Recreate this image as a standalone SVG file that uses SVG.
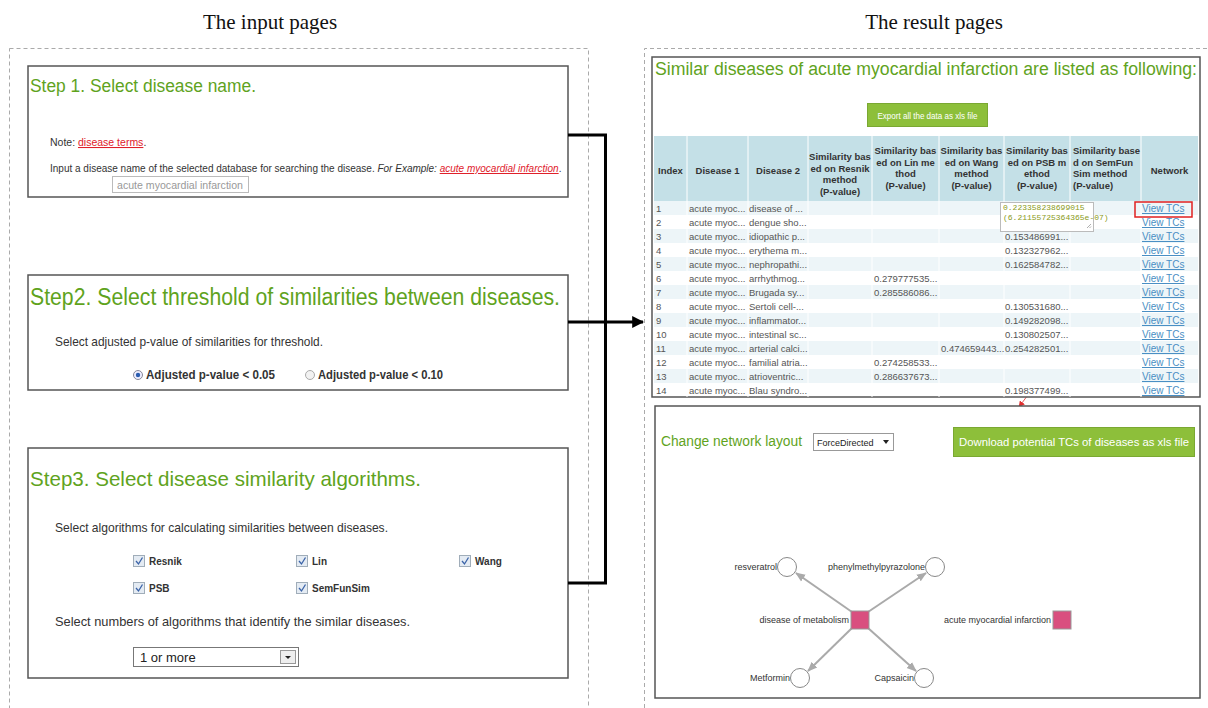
<svg xmlns="http://www.w3.org/2000/svg" width="1208" height="708" viewBox="0 0 1208 708">
<defs>
<style>
text{font-family:"Liberation Sans",Arial,sans-serif}
.cap{font-family:"Liberation Serif","Times New Roman",serif;font-size:21px;fill:#111}
.dash{fill:none;stroke:#aaa;stroke-width:1;stroke-dasharray:4 3}
.box{fill:#fff;stroke:#555;stroke-width:1.5}
.green{fill:#5fa31d}
.body{font-size:10.5px;fill:#333}
.body10{font-size:10px;fill:#333}
.body13{font-size:13px;fill:#333}
.link{fill:#e0202a;text-decoration:underline}
.blbl{font-size:12px;font-weight:bold;fill:#333}
.cbl{font-size:10px;font-weight:bold;fill:#333}
.hdr{font-size:9.5px;font-weight:bold;fill:#333;text-anchor:middle}
.hdrl{font-size:9.5px;font-weight:bold;fill:#333}
.cell{font-size:9.5px;fill:#555}
.view{font-size:10px;fill:#4a8fc4;text-decoration:underline}
.mono{font-family:"Liberation Mono","Courier New",monospace;font-size:8px;fill:#8a9a20}
.btn{fill:#8dbf3a;stroke:#7aa832;stroke-width:1}
.btxt{fill:#fff;text-anchor:middle}
.conn{fill:none;stroke:#000;stroke-width:3}
.edge{stroke:#aaa;stroke-width:2;fill:none}
.tc{fill:#fff;stroke:#888;stroke-width:1}
.dis{fill:#d94f7f;stroke:#999;stroke-width:1}
.nlbl{font-size:9px;fill:#333}
.cb{fill:#e4ebf3;stroke:#a0adb9;stroke-width:1}
.ck{fill:none;stroke:#3b63a8;stroke-width:1.3}
</style>
<marker id="blk" viewBox="0 0 10 10" refX="9" refY="5" markerWidth="4" markerHeight="4" orient="auto" markerUnits="strokeWidth"><path d="M0,0 L10,5 L0,10 z" fill="#000"/></marker>
<marker id="gry" viewBox="0 0 10 10" refX="9" refY="5" markerWidth="5" markerHeight="5" orient="auto" markerUnits="strokeWidth"><path d="M0,1 L10,5 L0,9 z" fill="#aaa"/></marker>
<marker id="red" viewBox="0 0 10 10" refX="9" refY="5" markerWidth="7" markerHeight="7" orient="auto" markerUnits="strokeWidth"><path d="M0,0 L10,5 L0,10 z" fill="#e03030"/></marker>
</defs>
<rect width="1208" height="708" fill="#fff"/>

<g id="captions">
<text class="cap" x="270" y="29" text-anchor="middle">The input pages</text>
<text class="cap" x="934" y="29" text-anchor="middle">The result pages</text>
</g>
<g id="containers">
<rect class="dash" x="9.5" y="48.5" width="579" height="700"/>
<path class="dash" d="M644.5,708 V48.5 H1210"/>
</g>

<g id="step1">
<rect class="box" x="28" y="66" width="540" height="131"/>
<text class="green" x="30" y="92" font-size="17.5" textLength="226" lengthAdjust="spacingAndGlyphs">Step 1. Select disease name.</text>
<text class="body" x="50" y="146">Note: <tspan class="link">disease terms</tspan>.</text>
<text class="body10" x="50" y="172">Input a disease name of the selected database for searching the disease. <tspan font-style="italic">For Example: </tspan><tspan class="link" font-style="italic">acute myocardial infarction</tspan>.</text>
<rect x="112.5" y="176.5" width="136" height="16" fill="#fff" stroke="#bbb"/>
<text x="117" y="188.5" font-size="11" fill="#999" textLength="126" lengthAdjust="spacingAndGlyphs">acute myocardial infarction</text>
</g>

<g id="step2">
<rect class="box" x="28" y="275" width="540" height="115"/>
<text class="green" x="30" y="305" font-size="23" textLength="530" lengthAdjust="spacingAndGlyphs">Step2. Select threshold of similarities between diseases.</text>
<text class="body13" x="55" y="346" textLength="268" lengthAdjust="spacingAndGlyphs">Select adjusted p-value of similarities for threshold.</text>
<circle cx="138" cy="375" r="4.5" fill="#eef" stroke="#889"/>
<circle cx="138" cy="375" r="2.2" fill="#2a5db0"/>
<text class="blbl" x="146" y="379" textLength="129" lengthAdjust="spacingAndGlyphs">Adjusted p-value &lt; 0.05</text>
<circle cx="310" cy="375" r="4.5" fill="#f2f2f2" stroke="#aaa"/>
<text class="blbl" x="318" y="379" textLength="125" lengthAdjust="spacingAndGlyphs">Adjusted p-value &lt; 0.10</text>
</g>

<g id="step3">
<rect class="box" x="28" y="448" width="540" height="230"/>
<text class="green" x="30" y="486" font-size="21" textLength="391" lengthAdjust="spacingAndGlyphs">Step3. Select disease similarity algorithms.</text>
<text class="body13" x="55" y="532" textLength="333" lengthAdjust="spacingAndGlyphs">Select algorithms for calculating similarities between diseases.</text>
<rect class="cb" x="133.5" y="555.5" width="11" height="11"/><path class="ck" d="M136,561 L138.5,564 L142.5,557.5"/>
<text class="cbl" x="149" y="565">Resnik</text>
<rect class="cb" x="296.5" y="555.5" width="11" height="11"/><path class="ck" d="M299,561 L301.5,564 L305.5,557.5"/>
<text class="cbl" x="312" y="565">Lin</text>
<rect class="cb" x="459.5" y="555.5" width="11" height="11"/><path class="ck" d="M462,561 L464.5,564 L468.5,557.5"/>
<text class="cbl" x="475" y="565">Wang</text>
<rect class="cb" x="133.5" y="582.5" width="11" height="11"/><path class="ck" d="M136,588 L138.5,591 L142.5,584.5"/>
<text class="cbl" x="149" y="592">PSB</text>
<rect class="cb" x="296.5" y="582.5" width="11" height="11"/><path class="ck" d="M299,588 L301.5,591 L305.5,584.5"/>
<text class="cbl" x="312" y="592">SemFunSim</text>
<text class="body13" x="55" y="626" textLength="355" lengthAdjust="spacingAndGlyphs">Select numbers of algorithms that identify the similar diseases.</text>
<rect x="133.5" y="647.5" width="165" height="19" fill="#fff" stroke="#777"/>
<text x="140" y="662" font-size="13" fill="#222">1 or more</text>
<rect x="280.5" y="650.5" width="15" height="13" fill="#eee" stroke="#999"/>
<path d="M285,656 L291,656 L288,659 z" fill="#222"/>
</g>

<g id="connectors">
<path class="conn" d="M568,135 H605.5 V583 H568"/>
<path class="conn" d="M568,322 H643" marker-end="url(#blk)"/>
<line x1="1161" y1="215" x2="1019" y2="407" stroke="#e04848" stroke-width="0.9" marker-end="url(#red)"/>
</g>

<g id="result-table">
<rect class="box" x="652" y="57" width="548" height="340"/>
<text class="green" x="655" y="75" font-size="18" textLength="542" lengthAdjust="spacingAndGlyphs">Similar diseases of acute myocardial infarction are listed as following:</text>
<rect class="btn" x="867.5" y="103.5" width="120" height="23"/>
<text class="btxt" x="927.5" y="118.5" font-size="9.5" textLength="100" lengthAdjust="spacingAndGlyphs">Export all the data as xls file</text>
<rect x="654" y="136" width="544" height="65" fill="#c4e0e7"/>
<g fill="#edf5f8">
<rect x="654" y="201" width="544" height="14"/><rect x="654" y="229" width="544" height="14"/>
<rect x="654" y="257" width="544" height="14"/><rect x="654" y="285" width="544" height="14"/>
<rect x="654" y="313" width="544" height="14"/><rect x="654" y="341" width="544" height="14"/>
<rect x="654" y="369" width="544" height="14"/>
</g>
<g stroke="#fff" stroke-width="1">
<line x1="687" y1="136" x2="687" y2="397"/><line x1="748" y1="136" x2="748" y2="397"/>
<line x1="808" y1="136" x2="808" y2="397"/><line x1="872" y1="136" x2="872" y2="397"/>
<line x1="939" y1="136" x2="939" y2="397"/><line x1="1004" y1="136" x2="1004" y2="397"/>
<line x1="1070" y1="136" x2="1070" y2="397"/><line x1="1141" y1="136" x2="1141" y2="397"/>
</g>
<text class="hdr" x="670.5" y="174">Index</text>
<text class="hdr" x="717.5" y="174">Disease 1</text>
<text class="hdr" x="778" y="174">Disease 2</text>
<text class="hdr" x="840" y="160">Similarity bas</text><text class="hdr" x="840" y="171.5">ed on Resnik</text><text class="hdr" x="840" y="183">method</text><text class="hdr" x="840" y="194.5">(P-value)</text>
<text class="hdr" x="905.5" y="154">Similarity bas</text><text class="hdr" x="905.5" y="165.5">ed on Lin me</text><text class="hdr" x="905.5" y="177">thod</text><text class="hdr" x="905.5" y="188.5">(P-value)</text>
<text class="hdr" x="971.5" y="154">Similarity bas</text><text class="hdr" x="971.5" y="165.5">ed on Wang</text><text class="hdr" x="971.5" y="177">method</text><text class="hdr" x="971.5" y="188.5">(P-value)</text>
<text class="hdr" x="1037" y="154">Similarity bas</text><text class="hdr" x="1037" y="165.5">ed on PSB m</text><text class="hdr" x="1037" y="177">ethod</text><text class="hdr" x="1037" y="188.5">(P-value)</text>
<text class="hdrl" x="1073" y="154">Similarity base</text><text class="hdrl" x="1073" y="165.5">d on SemFun</text><text class="hdrl" x="1073" y="177">Sim method</text><text class="hdrl" x="1073" y="188.5">(P-value)</text>
<text class="hdr" x="1169.5" y="174">Network</text>
<g>
<text class="cell" x="656" y="211.5">1</text><text class="cell" x="689" y="211.5">acute myoc...</text><text class="cell" x="749" y="211.5">disease of ...</text>
<text class="cell" x="656" y="225.5">2</text><text class="cell" x="689" y="225.5">acute myoc...</text><text class="cell" x="749" y="225.5">dengue sho...</text>
<text class="cell" x="656" y="239.5">3</text><text class="cell" x="689" y="239.5">acute myoc...</text><text class="cell" x="749" y="239.5">idiopathic p...</text><text class="cell" x="1005" y="239.5">0.153486991...</text>
<text class="cell" x="656" y="253.5">4</text><text class="cell" x="689" y="253.5">acute myoc...</text><text class="cell" x="749" y="253.5">erythema m...</text><text class="cell" x="1005" y="253.5">0.132327962...</text>
<text class="cell" x="656" y="267.5">5</text><text class="cell" x="689" y="267.5">acute myoc...</text><text class="cell" x="749" y="267.5">nephropathi...</text><text class="cell" x="1005" y="267.5">0.162584782...</text>
<text class="cell" x="656" y="281.5">6</text><text class="cell" x="689" y="281.5">acute myoc...</text><text class="cell" x="749" y="281.5">arrhythmog...</text><text class="cell" x="874" y="281.5">0.279777535...</text>
<text class="cell" x="656" y="295.5">7</text><text class="cell" x="689" y="295.5">acute myoc...</text><text class="cell" x="749" y="295.5">Brugada sy...</text><text class="cell" x="874" y="295.5">0.285586086...</text>
<text class="cell" x="656" y="309.5">8</text><text class="cell" x="689" y="309.5">acute myoc...</text><text class="cell" x="749" y="309.5">Sertoli cell-...</text><text class="cell" x="1005" y="309.5">0.130531680...</text>
<text class="cell" x="656" y="323.5">9</text><text class="cell" x="689" y="323.5">acute myoc...</text><text class="cell" x="749" y="323.5">inflammator...</text><text class="cell" x="1005" y="323.5">0.149282098...</text>
<text class="cell" x="656" y="337.5">10</text><text class="cell" x="689" y="337.5">acute myoc...</text><text class="cell" x="749" y="337.5">intestinal sc...</text><text class="cell" x="1005" y="337.5">0.130802507...</text>
<text class="cell" x="656" y="351.5">11</text><text class="cell" x="689" y="351.5">acute myoc...</text><text class="cell" x="749" y="351.5">arterial calci...</text><text class="cell" x="941" y="351.5">0.474659443...</text><text class="cell" x="1005" y="351.5">0.254282501...</text>
<text class="cell" x="656" y="365.5">12</text><text class="cell" x="689" y="365.5">acute myoc...</text><text class="cell" x="749" y="365.5">familial atria...</text><text class="cell" x="874" y="365.5">0.274258533...</text>
<text class="cell" x="656" y="379.5">13</text><text class="cell" x="689" y="379.5">acute myoc...</text><text class="cell" x="749" y="379.5">atrioventric...</text><text class="cell" x="874" y="379.5">0.286637673...</text>
<text class="cell" x="656" y="393.5">14</text><text class="cell" x="689" y="393.5">acute myoc...</text><text class="cell" x="749" y="393.5">Blau syndro...</text><text class="cell" x="1005" y="393.5">0.198377499...</text>
</g>
<g>
<text class="view" x="1142" y="212">View TCs</text><text class="view" x="1142" y="226">View TCs</text>
<text class="view" x="1142" y="240">View TCs</text><text class="view" x="1142" y="254">View TCs</text>
<text class="view" x="1142" y="268">View TCs</text><text class="view" x="1142" y="282">View TCs</text>
<text class="view" x="1142" y="296">View TCs</text><text class="view" x="1142" y="310">View TCs</text>
<text class="view" x="1142" y="324">View TCs</text><text class="view" x="1142" y="338">View TCs</text>
<text class="view" x="1142" y="352">View TCs</text><text class="view" x="1142" y="366">View TCs</text>
<text class="view" x="1142" y="380">View TCs</text><text class="view" x="1142" y="394">View TCs</text>
</g>
<rect x="1000.5" y="202.5" width="93" height="29" fill="#fff" stroke="#bbb"/>
<text class="mono" x="1003" y="210">0.223358238699015</text>
<text class="mono" x="1003" y="220">(6.21155725364365e-07)</text>
<path d="M1091,224 L1087,228 M1091,226.5 L1089.5,228" stroke="#999" stroke-width="0.8"/>
<rect x="1135" y="202" width="57" height="15" fill="none" stroke="#e02020" stroke-width="1.5"/>
</g>

<g id="network-panel">
<rect class="box" x="655" y="406" width="545" height="292"/>
<text class="green" x="661" y="446" font-size="14" textLength="141" lengthAdjust="spacingAndGlyphs">Change network layout</text>
<rect x="813.5" y="433.5" width="80" height="17" fill="#fff" stroke="#999"/>
<text x="817" y="445.5" font-size="9" fill="#222">ForceDirected</text>
<path d="M883,440 L889,440 L886,444 z" fill="#222"/>
<rect class="btn" x="953.5" y="427.5" width="241" height="29"/>
<text class="btxt" x="1074" y="446" font-size="11" textLength="230" lengthAdjust="spacingAndGlyphs">Download potential TCs of diseases as xls file</text>
</g>

<g id="network-edges">
<line class="edge" x1="852" y1="612" x2="796" y2="573" marker-end="url(#gry)"/>
<line class="edge" x1="868" y1="612" x2="926" y2="573" marker-end="url(#gry)"/>
<line class="edge" x1="852" y1="628" x2="808" y2="671" marker-end="url(#gry)"/>
<line class="edge" x1="868" y1="628" x2="916" y2="671" marker-end="url(#gry)"/>
</g>
<g id="node-resveratrol"><circle class="tc" cx="787" cy="567" r="9.5"/><text class="nlbl" x="777" y="570" text-anchor="end">resveratrol</text></g>
<g id="node-phenylmethylpyrazolone"><circle class="tc" cx="935" cy="567" r="9.5"/><text class="nlbl" x="925" y="570" text-anchor="end">phenylmethylpyrazolone</text></g>
<g id="node-metformin"><circle class="tc" cx="800" cy="678" r="9.5"/><text class="nlbl" x="790" y="681" text-anchor="end">Metformin</text></g>
<g id="node-capsaicin"><circle class="tc" cx="924" cy="678" r="9.5"/><text class="nlbl" x="914" y="681" text-anchor="end">Capsaicin</text></g>
<g id="node-disease-of-metabolism"><rect class="dis" x="851" y="611" width="18" height="18"/><text class="nlbl" x="849" y="623" text-anchor="end">disease of metabolism</text></g>
<g id="node-acute-myocardial-infarction"><rect class="dis" x="1053" y="611" width="18" height="18"/><text class="nlbl" x="1051" y="623" text-anchor="end">acute myocardial infarction</text></g>
</svg>
